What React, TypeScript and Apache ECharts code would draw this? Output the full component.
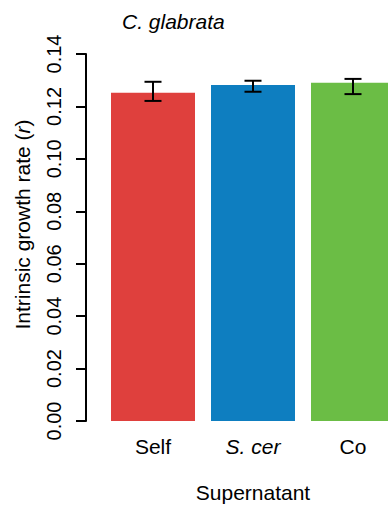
import React, { useEffect, useRef } from "react";
import * as echarts from "echarts";

const categories = ["Self", "S. cer", "Co"];
const means = [0.1252, 0.1282, 0.129];
const lower = [0.1221, 0.1256, 0.1247];
const upper = [0.1294, 0.1298, 0.1305];
const colors = ["#DF403D", "#0E7EC0", "#6BBD45"];
const yTicks = { min: 0, max: 0.14, interval: 0.02 };

const FONT = "Liberation Sans, Arial, Helvetica, sans-serif";

export default function App() {
  const ref = useRef<HTMLDivElement>(null);
  useEffect(() => {
    if (!ref.current) return;
    const chart = echarts.init(ref.current, null, { renderer: "svg" });
    chart.setOption({
      animation: false,
      backgroundColor: "#ffffff",
      title: {
        text: "C. glabrata",
        left: 117,
        top: 6,
        textStyle: {
          fontFamily: FONT,
          fontStyle: "italic",
          fontWeight: "normal",
          fontSize: 21,
          color: "#000",
        },
      },
      grid: { left: 103, right: 7, top: 54, bottom: 87 },
      xAxis: {
        type: "category",
        data: categories,
        axisLine: { show: false },
        axisTick: { show: false },
        axisLabel: {
          interval: 0,
          margin: 15,
          fontFamily: FONT,
          fontSize: 21,
          color: "#000",
          formatter: (v: string) => (v === "S. cer" ? "{i|" + v + "}" : v),
          rich: {
            i: { fontFamily: FONT, fontSize: 21, fontStyle: "italic", color: "#000" },
          },
        },
        name: "Supernatant",
        nameLocation: "middle",
        nameGap: 61,
        nameTextStyle: { fontFamily: FONT, fontSize: 21, color: "#000" },
      },
      yAxis: {
        type: "value",
        min: yTicks.min,
        max: yTicks.max,
        interval: yTicks.interval,
        offset: 17,
        splitLine: { show: false },
        axisLine: { show: true, lineStyle: { color: "#000", width: 2 } },
        axisTick: { show: true, length: 10, lineStyle: { color: "#000", width: 2 } },
        axisLabel: {
          rotate: 90,
          margin: 22,
          fontFamily: FONT,
          fontSize: 20,
          color: "#000",
          formatter: (v: number) => v.toFixed(2),
        },
        name: "Intrinsic growth rate ({i|r})",
        nameLocation: "middle",
        nameRotate: 90,
        nameGap: 53,
        nameTextStyle: {
          fontFamily: FONT,
          fontSize: 21,
          color: "#000",
          padding: [0, 0, 0, 26],
          rich: { i: { fontFamily: FONT, fontSize: 21, fontStyle: "italic", color: "#000" } },
        },
      },
      series: [
        {
          type: "bar",
          barCategoryGap: "16%",
          data: means.map((v, i) => ({ value: v, itemStyle: { color: colors[i] } })),
        },
        {
          type: "custom",
          data: categories.map((c, i) => [i, lower[i], upper[i]]),
          renderItem: (params: any, api: any) => {
            const x = api.value(0);
            const lo = api.coord([x, api.value(1)]);
            const hi = api.coord([x, api.value(2)]);
            const hw = 8.5;
            const style = { stroke: "#000", lineWidth: 2 };
            return {
              type: "group",
              children: [
                { type: "line", shape: { x1: lo[0], y1: lo[1], x2: hi[0], y2: hi[1] }, style },
                { type: "line", shape: { x1: lo[0] - hw, y1: lo[1], x2: lo[0] + hw, y2: lo[1] }, style },
                { type: "line", shape: { x1: hi[0] - hw, y1: hi[1], x2: hi[0] + hw, y2: hi[1] }, style },
              ],
            };
          },
          z: 10,
        },
      ],
    });
    return () => chart.dispose();
  }, []);
  return <div ref={ref} style={{ width: 410, height: 508, position: "fixed", left: 0, top: 0 }} />;
}
